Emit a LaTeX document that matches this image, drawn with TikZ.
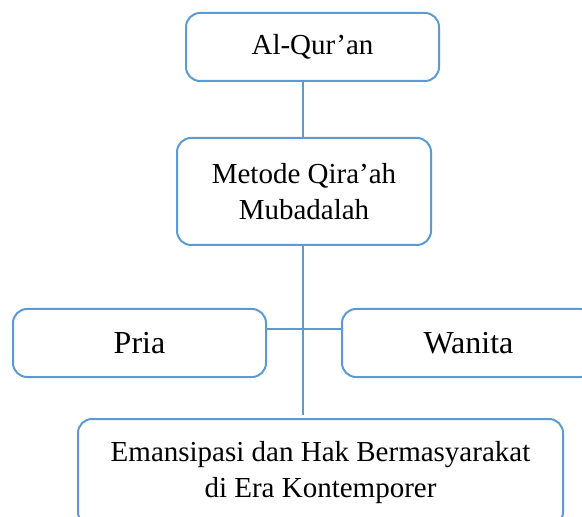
\documentclass[tikz,border=0pt]{standalone}
\usepackage{fontspec}
\setmainfont{Liberation Serif}
\usetikzlibrary{shapes,positioning}
\definecolor{boxblue}{RGB}{91,155,213}

\begin{document}
\begin{tikzpicture}[x=0.5pt,y=-0.5pt]
\tikzstyle{topic} = [rectangle, draw=boxblue, line width=1pt, rounded corners=7pt, align=center, inner sep=0pt, font=\fontsize{14.5}{18}\selectfont]
\tikzstyle{side} = [topic, minimum width=126.5pt, minimum height=34pt, font=\fontsize{16}{19}\selectfont]
\tikzstyle{link} = [draw=boxblue, line width=0.6pt]
\useasboundingbox (0,0) rectangle (582,517);
\node[topic, minimum width=126.5pt, minimum height=34pt] (QURAN) at (312.5,47) {Al-Qur’an};
\node[topic, minimum width=127pt, minimum height=53.5pt] (METODE) at (304,191.5) {Metode Qira’ah\\Mubadalah};
\node[side] (PRIA) at (139.5,343) {Pria};
\node[side] (WANITA) at (468.5,343) {Wanita};
\node[topic, minimum width=242.5pt, minimum height=53.5pt] (EMANSIPASI) at (320.5,472.5) {Emansipasi dan Hak Bermasyarakat\\di Era Kontemporer};
\coordinate (TRUNK) at (303,415);
\coordinate (CROSS) at (303,329);
\draw[link] (QURAN.south -| TRUNK) -- (METODE.north -| TRUNK);
\draw[link] (METODE.south -| TRUNK) -- (TRUNK);
\draw[link] (PRIA.east |- CROSS) -- (WANITA.west |- CROSS);
\end{tikzpicture}
\end{document}
